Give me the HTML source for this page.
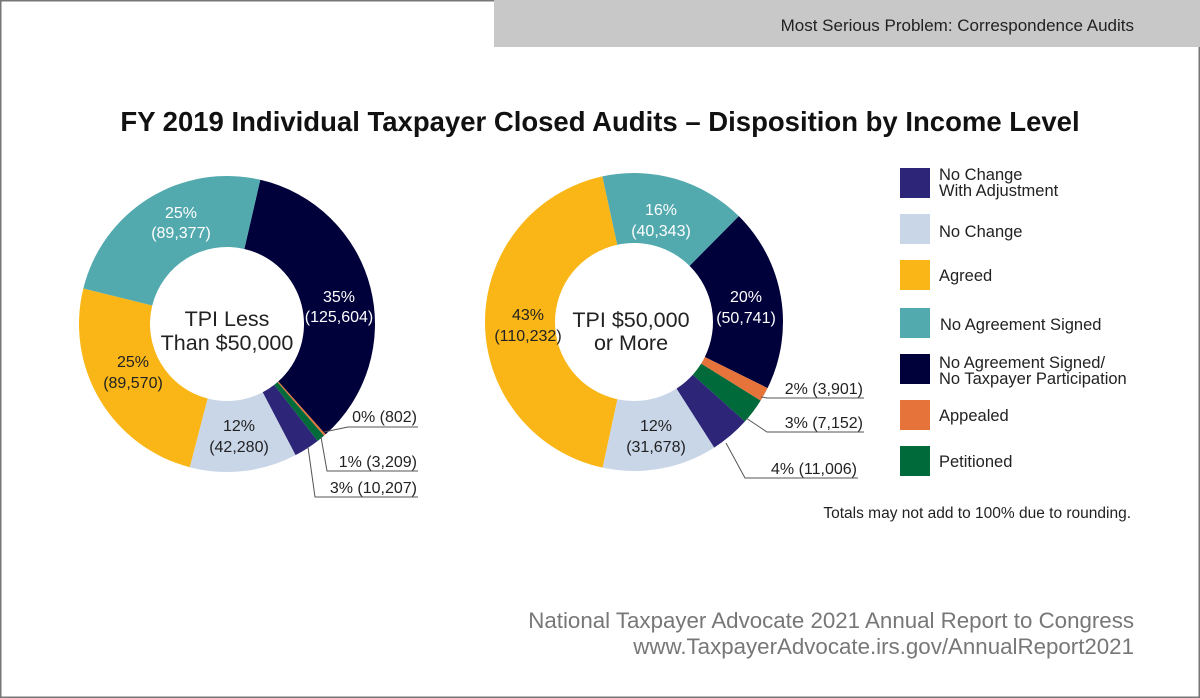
<!DOCTYPE html>
<html><head><meta charset="utf-8"><style>
body{margin:0;background:#fff;}
svg{display:block;font-family:"Liberation Sans",sans-serif;}
</style></head><body>
<svg id="s" width="1200" height="698" viewBox="0 0 1200 698" xmlns="http://www.w3.org/2000/svg">
<rect x="0.5" y="0.5" width="1199" height="697" fill="#fff" stroke="#777" stroke-width="2"/>
<rect x="494" y="0" width="706" height="47" fill="#c8c8c8"/>
<text x="1134" y="31" text-anchor="end" font-size="17" fill="#222">Most Serious Problem: Correspondence Audits</text>
<text x="600" y="131" text-anchor="middle" font-size="27.5" font-weight="bold" fill="#111">FY 2019 Individual Taxpayer Closed Audits – Disposition by Income Level</text>
<g id="d1"></g><g id="d2"></g>
<g font-size="16" text-anchor="middle" fill="#fff">
<text x="181" y="218">25%</text><text x="181" y="238">(89,377)</text>
<text x="339" y="302">35%</text><text x="339" y="322">(125,604)</text>
<text x="133" y="367" fill="#222">25%</text><text x="133" y="388" fill="#222">(89,570)</text>
<text x="239" y="431" fill="#222">12%</text><text x="239" y="452" fill="#222">(42,280)</text>
<text x="661" y="215">16%</text><text x="661" y="236">(40,343)</text>
<text x="746" y="302">20%</text><text x="746" y="323">(50,741)</text>
<text x="528" y="320" fill="#222">43%</text><text x="528" y="341" fill="#222">(110,232)</text>
<text x="656" y="431" fill="#222">12%</text><text x="656" y="452" fill="#222">(31,678)</text>
</g>
<g font-size="21.5" text-anchor="middle" fill="#222">
<text x="227" y="326">TPI Less</text><text x="227" y="350">Than $50,000</text>
<text x="631" y="327">TPI $50,000</text><text x="631" y="350">or More</text>
</g>
<g fill="none" stroke="#555" stroke-width="1">
<polyline points="324,432 348,427 418,427"/>
<polyline points="321,437 327,471 418,471"/>
<polyline points="308,447 315,497 418,497"/>
<polyline points="761,397 767,398 864,398"/>
<polyline points="746,418 767,432 864,432"/>
<polyline points="726,443 745,478 858,478"/>
</g>
<g font-size="16" text-anchor="end" fill="#222">
<text x="417" y="422">0% (802)</text>
<text x="417" y="467">1% (3,209)</text>
<text x="417" y="493">3% (10,207)</text>
<text x="863" y="394">2% (3,901)</text>
<text x="863" y="428">3% (7,152)</text>
<text x="857" y="474">4% (11,006)</text>
</g>
<g font-size="16.5" fill="#222">
<rect x="900" y="168" width="30" height="30" fill="#2d2577"/>
<text x="939" y="180">No Change</text><text x="939" y="196">With Adjustment</text>
<rect x="900" y="214" width="30" height="30" fill="#c9d6e8"/>
<text x="939" y="237">No Change</text>
<rect x="900" y="260" width="30" height="30" fill="#fab617"/>
<text x="939" y="281">Agreed</text>
<rect x="900" y="308" width="30" height="30" fill="#52a9ae"/>
<text x="940" y="330">No Agreement Signed</text>
<rect x="900" y="354" width="30" height="30" fill="#00003a"/>
<text x="939" y="368">No Agreement Signed/</text><text x="939" y="384">No Taxpayer Participation</text>
<rect x="900" y="400" width="30" height="30" fill="#e6733a"/>
<text x="939" y="421">Appealed</text>
<rect x="900" y="446" width="30" height="30" fill="#006a3a"/>
<text x="939" y="467">Petitioned</text>
<text x="1131" y="518" text-anchor="end" font-size="15.5">Totals may not add to 100% due to rounding.</text>
</g>
<g font-size="22.3" text-anchor="end" fill="#777">
<text x="1134" y="628">National Taxpayer Advocate 2021 Annual Report to Congress</text>
<text x="1134" y="654">www.TaxpayerAdvocate.irs.gov/AnnualReport2021</text>
</g>
</svg>
<script>
function donut(id,cx,cy,R,r,start,data){
  var g=document.getElementById(id),tot=data.reduce(function(a,b){return a+b[0]},0),a=start,s='';
  data.forEach(function(d){
    var b=a+d[0]/tot*360;
    function p(rad,ang){var t=(ang)*Math.PI/180;return [cx+rad*Math.sin(t),cy-rad*Math.cos(t)];}
    var p1=p(R,a),p2=p(R,b),p3=p(r,b),p4=p(r,a),lg=(b-a)>180?1:0;
    s+='<path fill="'+d[1]+'" d="M'+p1+' A'+R+','+R+' 0 '+lg+' 1 '+p2+' L'+p3+' A'+r+','+r+' 0 '+lg+' 0 '+p4+'Z"/>';
    a=b;
  });
  g.innerHTML=s;
}
var N='#00003a',O='#e6733a',G='#006a3a',P='#2d2577',L='#c9d6e8',Y='#fab617',T='#52a9ae';
donut('d1',227,324,148,77,13,[[125604,N],[802,O],[3209,G],[10207,P],[42280,L],[89570,Y],[89377,T]]);
donut('d2',634,322,149,79,44.7,[[50741,N],[3901,O],[7152,G],[11006,P],[31678,L],[110232,Y],[40343,T]]);
</script>
</body></html>
